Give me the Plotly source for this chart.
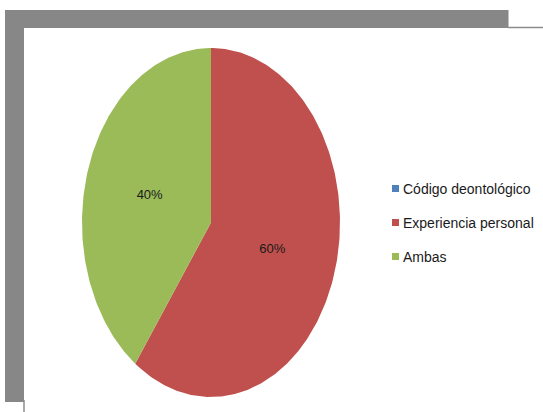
import numpy as np
import plotly.graph_objects as go

# ---- data ----
categories = ["Código deontológico", "Experiencia personal", "Ambas"]
values = [0, 60, 40]
colors = ["#4F81BD", "#C0504D", "#9BBB59"]

# ---- layout constants (pixels) ----
W, H = 543, 412
CX, CY = 211, 222.5      # pie centre
RX, RY = 129, 174.5      # ellipse semi-axes
LABEL_FRAC = 0.5
FONT = "Liberation Sans Narrow, Arial Narrow, Liberation Sans, Arial"
GRAY = "#878787"

fig = go.Figure()

total = float(sum(values))
start = 0.0
for cat, val, col in zip(categories, values, colors):
    frac = val / total
    if frac > 0:
        t = np.linspace(start, start + frac, max(int(400 * frac), 8)) * 2 * np.pi
        xs = np.concatenate([[CX], CX + RX * np.sin(t), [CX]])
        ys = np.concatenate([[CY], CY - RY * np.cos(t), [CY]])
        fig.add_trace(go.Scatter(x=xs, y=ys, fill="toself", fillcolor=col,
                                 mode="lines", line=dict(width=0, color=col),
                                 showlegend=False, hoverinfo="skip"))
        mid = (start + frac / 2) * 2 * np.pi
        fig.add_trace(go.Scatter(
            x=[CX + RX * LABEL_FRAC * np.sin(mid)],
            y=[CY - RY * LABEL_FRAC * np.cos(mid)],
            mode="text", text=[f"{round(frac * 100)}%"],
            textfont=dict(family=FONT, size=13, color="#1a1a1a"),
            showlegend=False, hoverinfo="skip"))
    start += frac

shapes = [
    # shadow frame
    dict(type="rect", x0=5, x1=508.5, y0=10, y1=402, fillcolor=GRAY,
         line=dict(width=0), layer="below"),
    dict(type="rect", x0=24, x1=W + 5, y0=28, y1=H + 5, fillcolor="white",
         line=dict(width=0), layer="below"),
    dict(type="line", x0=508, x1=W, y0=27.5, y1=27.5,
         line=dict(color="#8c8c8c", width=1.5), layer="below"),
    dict(type="line", x0=24, x1=24, y0=400, y1=H,
         line=dict(color="#8c8c8c", width=1.5), layer="below"),
]

annotations = []
LX, LY0, LDY = 392, 188.5, 34
for i, (cat, col) in enumerate(zip(categories, colors)):
    y = LY0 + i * LDY
    shapes.append(dict(type="rect", x0=LX, x1=LX + 7, y0=y - 3.5, y1=y + 3.5,
                       fillcolor=col, line=dict(width=0)))
    annotations.append(dict(x=LX + 9, y=y, text=cat, showarrow=False,
                            xanchor="left", yanchor="middle",
                            font=dict(family=FONT, size=14, color="#1a1a1a")))

fig.update_layout(
    width=W, height=H, margin=dict(l=0, r=0, t=0, b=0),
    paper_bgcolor="white", plot_bgcolor="rgba(0,0,0,0)",
    xaxis=dict(range=[0, W], visible=False, fixedrange=True),
    yaxis=dict(range=[H, 0], visible=False, fixedrange=True),
    shapes=shapes, annotations=annotations, showlegend=False,
)

fig.write_html("out.html")
